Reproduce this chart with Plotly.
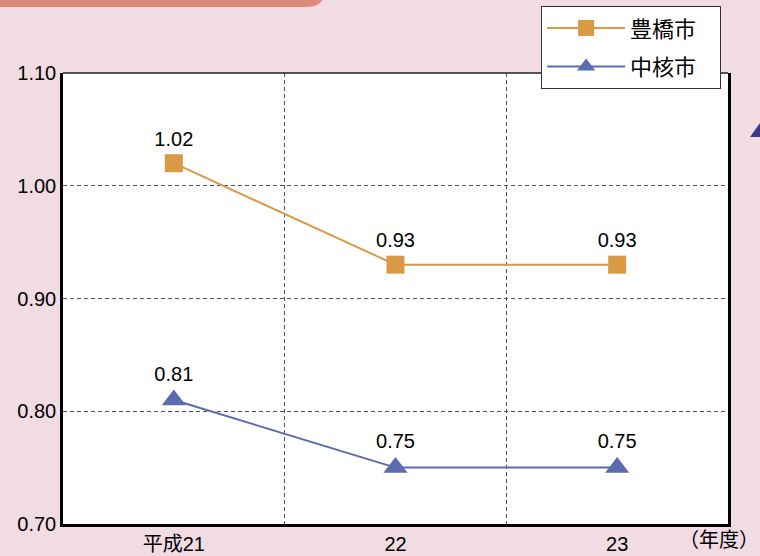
import plotly.graph_objects as go

categories = ["平成21", "22", "23"]
toyohashi = [1.02, 0.93, 0.93]
chukaku = [0.81, 0.75, 0.75]
series_names = ["豊橋市", "中核市"]
y_ticks = [0.70, 0.80, 0.90, 1.00, 1.10]

FONT = "Liberation Sans, Arial, Noto Sans CJK JP, sans-serif"
ORANGE = "#DA9A45"
BLUE = "#5A6CAE"
xpos = list(range(len(categories)))
PAD = "&nbsp;" * 3

fig = go.Figure()
fig.add_trace(go.Scatter(
    x=xpos, y=toyohashi, name=series_names[0] + PAD, mode="lines+markers+text",
    legendgroup="a",
    line=dict(color=ORANGE, width=2),
    marker=dict(symbol="square", size=18, color=ORANGE),
    text=[f"{v:.2f}" for v in toyohashi], textposition="top center",
    textfont=dict(size=20, color="black", family=FONT),
))
fig.add_trace(go.Scatter(
    x=xpos, y=chukaku, name=series_names[1] + PAD, mode="lines+markers+text",
    legendgroup="b",
    line=dict(color=BLUE, width=2),
    marker=dict(symbol="triangle-up", size=21, color=BLUE),
    text=[f"{v:.2f}" for v in chukaku], textposition="top center",
    textfont=dict(size=20, color="black", family=FONT),
))

fig.update_layout(
    width=760, height=556,
    margin=dict(l=63, r=32, t=73, b=32, autoexpand=False),
    paper_bgcolor="#F1DCE3", plot_bgcolor="white",
    font=dict(family=FONT, size=20, color="black"),
    showlegend=True,
    legend=dict(
        xref="container", yref="container",
        x=0.712, y=0.989, xanchor="left", yanchor="top",
        bgcolor="white", bordercolor="#333", borderwidth=1,
        font=dict(size=22, family=FONT), itemwidth=78,
        tracegroupgap=7, traceorder="grouped",
    ),
    xaxis=dict(
        range=[-0.5, 2.5], tickmode="array", tickvals=xpos, ticktext=categories,
        showgrid=False, zeroline=False, showline=True, linecolor="black", linewidth=2.5,
        ticks="", tickfont=dict(size=20), automargin=False,
        minor=dict(tickmode="array", tickvals=[0.5, 1.5], showgrid=True,
                   gridcolor="#555", griddash="4px,3px", gridwidth=1, ticks=""),
    ),
    yaxis=dict(
        range=[0.70, 1.10], tickmode="array", tickvals=y_ticks,
        tickformat=".2f", showgrid=True, gridcolor="#555", griddash="4px,3px",
        gridwidth=1, zeroline=False, showline=True, linecolor="black", linewidth=2.5,
        mirror=True, ticks="", tickfont=dict(size=20), automargin=False,
    ),
    shapes=[
        dict(type="line", xref="paper", yref="paper", x0=0, x1=1, y0=1, y1=1,
             line=dict(color="#222", width=1.5)),
        dict(type="path", xref="paper", yref="paper", xanchor=0, yanchor=1,
             xsizemode="pixel", ysizemode="pixel",
             path="M -70,100 L 262,100 L 262,84 Q 262,66 244,66 L -70,66 Z",
             fillcolor="#DA897B", line=dict(width=0), layer="above"),
        dict(type="path", xref="paper", yref="paper", xanchor=0, yanchor=1,
             xsizemode="pixel", ysizemode="pixel",
             path="M 687,-64 L 737,-64 L 705,-39 Z",
             fillcolor="#3A3A8C", line=dict(width=0), layer="above"),
    ],
    annotations=[
        dict(text="（年度）", xref="paper", yref="paper", x=1, y=0,
             xanchor="left", yanchor="bottom", xshift=-51, yshift=-31,
             showarrow=False, font=dict(size=20, family="Noto Sans CJK JP")),
    ],
)

fig.write_html("out.html")
